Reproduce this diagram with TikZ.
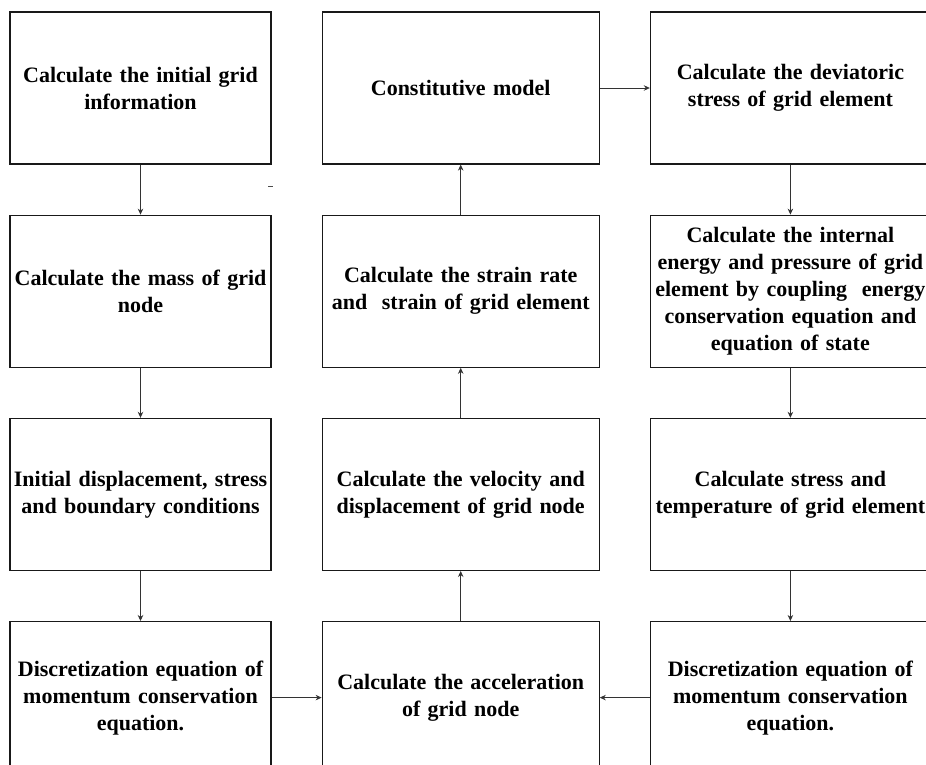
\documentclass[tikz,border=0pt]{standalone}
\usepackage{fontspec}
\setmainfont{Liberation Serif}
\usetikzlibrary{arrows.meta, positioning}

\begin{document}
\begin{tikzpicture}[x=1pt, y=-1pt, >={Stealth[length=6pt, width=5.5pt]},
    node distance=50pt,
    stepbox/.style={draw=black!90, line width=1.2pt, minimum height=152pt,
        inner sep=0pt, align=center,
        font=\fontsize{22}{27}\selectfont\bfseries},
    flow/.style={->, line width=0.8pt, black!80}]

\useasboundingbox (0,0) rectangle (926,764);

% === Columna izquierda ===
\node[stepbox, text width=261pt] (initinfo) at (140.5,88) {Calculate the initial grid\\information};
\node[stepbox, text width=261pt, below=of initinfo] (nodemass) {Calculate the mass of grid\\node};
\node[stepbox, text width=261pt, below=of nodemass] (initcond) {Initial displacement, stress\\and boundary conditions};
\node[stepbox, text width=261pt, below=of initcond] (discleft) {Discretization equation of\\momentum conservation\\equation.};

% === Columna central ===
\node[stepbox, text width=277pt, right=of initinfo] (constmodel) {Constitutive model};
\node[stepbox, text width=277pt, right=of nodemass] (strainrate) {Calculate the strain rate\\and\ \ strain of grid element};
\node[stepbox, text width=277pt, right=of initcond] (velocity) {Calculate the velocity and\\displacement of grid node};
\node[stepbox, text width=277pt, right=of discleft] (accel) {Calculate the acceleration\\of grid node};

% === Columna derecha ===
\node[stepbox, text width=280pt, right=of constmodel] (devstress) {Calculate the deviatoric\\stress of grid element};
\node[stepbox, text width=280pt, right=of strainrate] (energy) {Calculate the internal\\energy and pressure of grid\\element by coupling\ \ energy\\conservation equation and\\equation of state};
\node[stepbox, text width=280pt, right=of velocity] (temper) {Calculate stress and\\temperature of grid element};
\node[stepbox, text width=280pt, right=of accel] (discright) {Discretization equation of\\momentum conservation\\equation.};

% === Flechas ===
\draw[flow] (initinfo) -- (nodemass);
\draw[flow] (nodemass) -- (initcond);
\draw[flow] (initcond) -- (discleft);
\draw[flow] (discleft) -- (accel);
\draw[flow] (accel) -- (velocity);
\draw[flow] (velocity) -- (strainrate);
\draw[flow] (strainrate) -- (constmodel);
\draw[flow] (constmodel) -- (devstress);
\draw[flow] (devstress) -- (energy);
\draw[flow] (energy) -- (temper);
\draw[flow] (temper) -- (discright);
\draw[flow] (discright) -- (accel);

% marca suelta
\draw[line width=0.8pt, black!70] (268,186) -- (273,186);

\end{tikzpicture}
\end{document}
